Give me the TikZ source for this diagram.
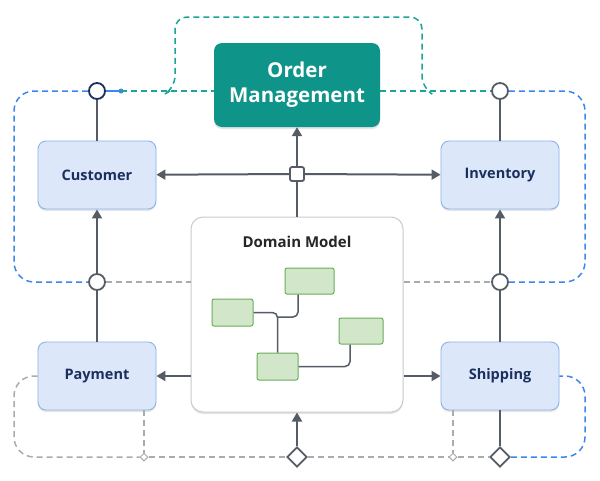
\documentclass[tikz,border=0pt]{standalone}
\usepackage{fontspec}
\setmainfont{Open Sans}
\usetikzlibrary{arrows.meta,shapes.geometric,shadows}

\definecolor{omteal}{HTML}{0E9488}
\definecolor{ctxfill}{HTML}{DCE8FA}
\definecolor{ctxline}{HTML}{8CB2EA}
\definecolor{ctxtext}{HTML}{1B2F5E}
\definecolor{linkgray}{HTML}{555C66}
\definecolor{dashgray}{HTML}{A9ABAF}
\definecolor{dashblue}{HTML}{3D86EE}
\definecolor{dashteal}{HTML}{1AA596}
\definecolor{entfill}{HTML}{D2E7C9}
\definecolor{entline}{HTML}{6AAE5A}
\definecolor{domline}{HTML}{C9CBCE}

\tikzset{
  softshadow/.style={drop shadow={shadow xshift=0pt, shadow yshift=-2pt, opacity=0.10, fill=black}},
  ctxbox/.style={draw=ctxline, fill=ctxfill, line width=0.9pt, rounded corners=8pt,
    minimum width=118pt, minimum height=68pt, text=ctxtext, softshadow,
    font=\fontsize{14.5}{16}\selectfont\bfseries},
  entbox/.style={draw=entline, fill=entfill, line width=1pt, rounded corners=2pt, inner sep=0pt},
  link/.style={draw=linkgray, line width=2pt},
  tip/.style={-{Triangle[length=9pt,width=10pt]}},
  port/.style={circle, draw=linkgray, fill=white, line width=1.8pt, minimum size=16pt, inner sep=0pt},
  gdash/.style={draw=dashgray, line width=1.5pt, dash pattern=on 6pt off 4pt},
  bdash/.style={draw=dashblue, line width=1.5pt, dash pattern=on 6pt off 4pt},
  tdash/.style={draw=dashteal, line width=1.5pt, dash pattern=on 6pt off 4pt},
}

\begin{document}
\begin{tikzpicture}[x=1pt,y=-1pt]
    \fill[white] (0,0) rectangle (600,480);
    \useasboundingbox (0,0) rectangle (600,480);

    % order management
    \node[fill=omteal, rounded corners=8pt, minimum width=166pt, minimum height=84pt, softshadow,
      text=white, align=center, font=\fontsize{20.5}{25}\selectfont\bfseries]
      (om) at (297,85) {Order\\Management};

    % contexts
    \node[ctxbox] (cust) at (97,175) {Customer};
    \node[ctxbox] (inv) at (500,175) {Inventory};
    \node[ctxbox] (pay) at (97,376) {Payment};
    \node[ctxbox] (ship) at (500,376) {Shipping};

    % domain model
    \node[draw=domline, fill=white, line width=1pt, rounded corners=12pt, softshadow,
      minimum width=212pt, minimum height=195pt] (dom) at (297,314.5) {};
    \node[font=\fontsize{15}{18}\selectfont\bfseries, text=black!85] (domt) at (297,242) {Domain Model};
    \node[entbox, minimum width=41pt, minimum height=27pt] (ea) at (232.5,312.5) {};
    \node[entbox, minimum width=49pt, minimum height=26pt] (eb) at (309.5,281) {};
    \node[entbox, minimum width=44pt, minimum height=26pt] (ec) at (361,331) {};
    \node[entbox, minimum width=41pt, minimum height=27pt] (ed) at (277.5,366.5) {};
    \draw[link, line width=1.5pt, rounded corners=5pt] (ea.east) -| (ed.north);
    \draw[link, line width=1.5pt, rounded corners=5pt] ([xshift=-11.5pt]eb.south) |- (277.5,317);
    \draw[link, line width=1.5pt, rounded corners=5pt] (ed.east) -| ([xshift=-11pt]ec.south);

    % hub, ports and junctions
    \node[draw=linkgray, fill=white, line width=1.8pt, rounded corners=2pt,
      minimum size=14pt, inner sep=0pt] (hub) at (297,174) {};
    \node[port, draw=ctxtext] (pcust) at (97,91) {};
    \node[port] (pinv) at (500,91) {};
    \node[port] (ppay) at (97,282) {};
    \node[port] (pship) at (500,282) {};
    \node[diamond, draw=linkgray, fill=white, line width=1.8pt, minimum size=20pt, inner sep=0pt] (jdom) at (297,457) {};
    \node[diamond, draw=linkgray, fill=white, line width=1.8pt, minimum size=20pt, inner sep=0pt] (jship) at (500,457) {};
    \node[diamond, draw=dashgray, fill=white, line width=1pt, minimum size=8pt, inner sep=0pt] (jpay) at (144,457) {};
    \node[diamond, draw=dashgray, fill=white, line width=1pt, minimum size=8pt, inner sep=0pt] (jshp) at (453,457) {};
    \coordinate (bdot) at (121,91);

    % solid links
    \draw[link, tip] (hub) -- (om);
    \draw[link] (dom) -- (hub);
    \draw[link, tip] (hub) -- (cust);
    \draw[link, tip] (hub) -- (inv);
    \draw[link] (cust) -- (pcust);
    \draw[link] (inv) -- (pinv);
    \draw[link, tip] (ppay) -- (cust);
    \draw[link] (pay) -- (ppay);
    \draw[link, tip] (pship) -- (inv);
    \draw[link] (ship) -- (pship);
    \draw[link, tip] (dom.west |- pay) -- (pay);
    \draw[link, tip] (dom.east |- ship) -- (ship);
    \draw[link, tip] (jdom) -- (dom);
    \draw[link] (ship) -- (jship);

    % blue loops
    \draw[bdash, rounded corners=20pt] (pcust) -- (14,91) -- (14,282) -- (ppay);
    \draw[bdash, rounded corners=20pt] (pinv) -- (585,91) -- (585,282) -- (pship);
    \draw[bdash, rounded corners=20pt] (jship) -- (585,457) -- (585,376) -- (ship);
    \draw[dashblue, line width=2pt] (pcust) -- (bdot);
    \fill[dashblue] (bdot) circle (2.5pt);

    % teal loop
    \draw[tdash] (bdot) -- (om.west |- pcust);
    \draw[tdash] (om.east |- pinv) -- (pinv);
    \draw[tdash, rounded corners=12pt] (170,91) -- (175,88) -- (175,17) -- (422,17) -- (422,88) -- (427,91);

    % gray dashed
    \draw[gdash] (ppay) -- (dom.west |- ppay);
    \draw[gdash] (dom.east |- pship) -- (pship);
    \draw[gdash, rounded corners=20pt] (pay) -- (14,376) -- (14,457) -- (jpay);
    \draw[gdash] (pay.south -| jpay) -- (jpay);
    \draw[gdash] (ship.south -| jshp) -- (jshp);
    \draw[gdash] (jpay) -- (jdom);
    \draw[gdash] (jdom) -- (jshp);
    \draw[gdash] (jshp) -- (jship);
\end{tikzpicture}
\end{document}
